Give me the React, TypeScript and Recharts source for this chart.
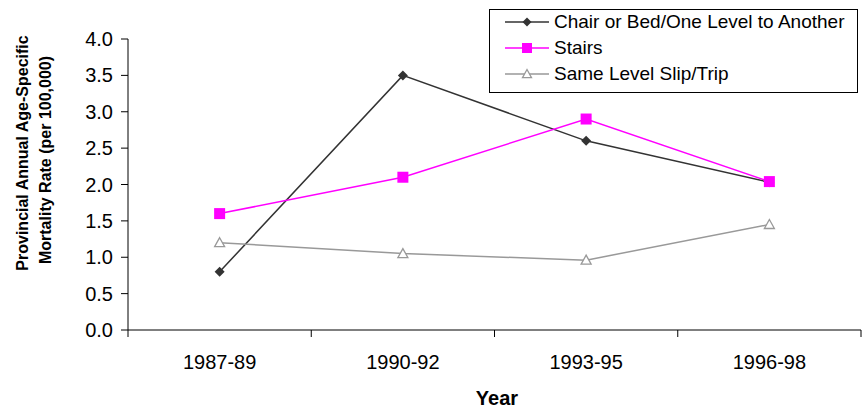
import React from 'react';
import { LineChart, Line, XAxis, YAxis } from 'recharts';

const categories = ['1987-89', '1990-92', '1993-95', '1996-98'];
const chairBed = [0.8, 3.5, 2.6, 2.03];
const stairs = [1.6, 2.1, 2.9, 2.04];
const sameLevel = [1.2, 1.05, 0.96, 1.45];
const yTicks = [0, 0.5, 1, 1.5, 2, 2.5, 3, 3.5, 4];

const seriesNames = ['Chair or Bed/One Level to Another', 'Stairs', 'Same Level Slip/Trip'];
const seriesColors = ['#333333', '#ff00ff', '#999999'];

const FONT = '"Liberation Sans", Arial, sans-serif';
const W = 864;
const H = 408;
const Y_AXIS_W = 128;
const RIGHT = 3;
const HALF = (W - Y_AXIS_W - RIGHT) / categories.length / 2;

const data = categories.map((year, i) => ({
  year,
  chair: chairBed[i],
  stairs: stairs[i],
  same: sameLevel[i],
}));

// marker shapes
const Diamond = ({ cx, cy, r = 5, color }: any) => (
  <path d={`M${cx},${cy - r}L${cx + r},${cy}L${cx},${cy + r}L${cx - r},${cy}Z`} fill={color} />
);
const Square = ({ cx, cy, r = 5, color }: any) => (
  <rect x={cx - r} y={cy - r} width={r * 2} height={r * 2} fill={color} />
);
const Triangle = ({ cx, cy, r = 5, color }: any) => (
  <path
    d={`M${cx},${cy - r}L${cx + r},${cy + r * 0.8}L${cx - r},${cy + r * 0.8}Z`}
    fill="#fff"
    stroke={color}
    strokeWidth={1.3}
  />
);
const markers = [Diamond, Square, Triangle];

function XTick({ x, y, payload, index }: any) {
  return (
    <g>
      <line x1={x - HALF} x2={x - HALF} y1={y} y2={y + 7} stroke="#000" />
      {index === categories.length - 1 && (
        <line x1={x + HALF} x2={x + HALF} y1={y} y2={y + 7} stroke="#000" />
      )}
      <text x={x} y={y + 39} textAnchor="middle" fontSize={20} fill="#000" fontFamily={FONT}>
        {payload.value}
      </text>
    </g>
  );
}

function Legend() {
  const rows = [12, 38, 64];
  return (
    <div
      style={{
        position: 'absolute',
        left: 489,
        top: 9,
        width: 369,
        height: 84,
        border: '1px solid #000',
        background: '#fff',
        boxSizing: 'border-box',
      }}
    >
      {seriesNames.map((name, i) => {
        const Marker = markers[i];
        return (
          <div key={name} style={{ position: 'absolute', left: 0, top: rows[i] - 12, height: 24, display: 'flex', alignItems: 'center' }}>
            <svg width={64} height={24} style={{ display: 'block' }}>
              <line x1={15} x2={59} y1={12} y2={12} stroke={seriesColors[i]} strokeWidth={1.5} />
              <Marker cx={37} cy={12} r={i === 0 ? 4.5 : i === 1 ? 5 : 4.5} color={seriesColors[i]} />
            </svg>
            <span style={{ fontSize: 19, lineHeight: '24px', color: '#000', whiteSpace: 'nowrap' }}>{name}</span>
          </div>
        );
      })}
    </div>
  );
}

export default function App() {
  return (
    <div style={{ position: 'absolute', left: 0, top: 0, width: W, height: H, fontFamily: FONT, background: '#fff' }}>
      <LineChart width={W} height={H} data={data} margin={{ top: 39, right: RIGHT, left: 0, bottom: 0 }}>
        <XAxis
          dataKey="year"
          height={78}
          interval={0}
          padding={{ left: HALF, right: HALF }}
          tickLine={false}
          tickSize={0}
          tickMargin={0}
          tick={<XTick />}
          axisLine={{ stroke: '#000' }}
        />
        <YAxis
          width={Y_AXIS_W}
          domain={[0, 4]}
          ticks={yTicks}
          interval={0}
          tickFormatter={(v: number) => v.toFixed(1)}
          tickSize={7}
          tickMargin={8}
          tick={{ fontSize: 20, fill: '#000', fontFamily: FONT }}
          tickLine={{ stroke: '#000' }}
          axisLine={{ stroke: '#000' }}
        />
        <Line
          dataKey="chair"
          stroke={seriesColors[0]}
          strokeWidth={1.5}
          isAnimationActive={false}
          dot={(p: any) => <Diamond key={`c-${p.index}`} cx={p.cx} cy={p.cy} r={5} color={seriesColors[0]} />}
        />
        <Line
          dataKey="stairs"
          stroke={seriesColors[1]}
          strokeWidth={1.5}
          isAnimationActive={false}
          dot={(p: any) => <Square key={`s-${p.index}`} cx={p.cx} cy={p.cy} r={5.5} color={seriesColors[1]} />}
        />
        <Line
          dataKey="same"
          stroke={seriesColors[2]}
          strokeWidth={1.5}
          isAnimationActive={false}
          dot={(p: any) => <Triangle key={`t-${p.index}`} cx={p.cx} cy={p.cy} r={5} color={seriesColors[2]} />}
        />
      </LineChart>
      <svg width={W} height={H} style={{ position: 'absolute', left: 0, top: 0, pointerEvents: 'none' }}>
        <text transform="translate(28,153) rotate(-90)" textAnchor="middle" fontSize={16} fontWeight="bold" fontFamily={FONT} fill="#000">
          Provincial Annual Age-Specific
        </text>
        <text transform="translate(51,160) rotate(-90)" textAnchor="middle" fontSize={16} fontWeight="bold" fontFamily={FONT} fill="#000">
          Mortality Rate (per 100,000)
        </text>
        <text x={497} y={405} textAnchor="middle" fontSize={20} fontWeight="bold" fontFamily={FONT} fill="#000">
          Year
        </text>
      </svg>
      <Legend />
    </div>
  );
}
